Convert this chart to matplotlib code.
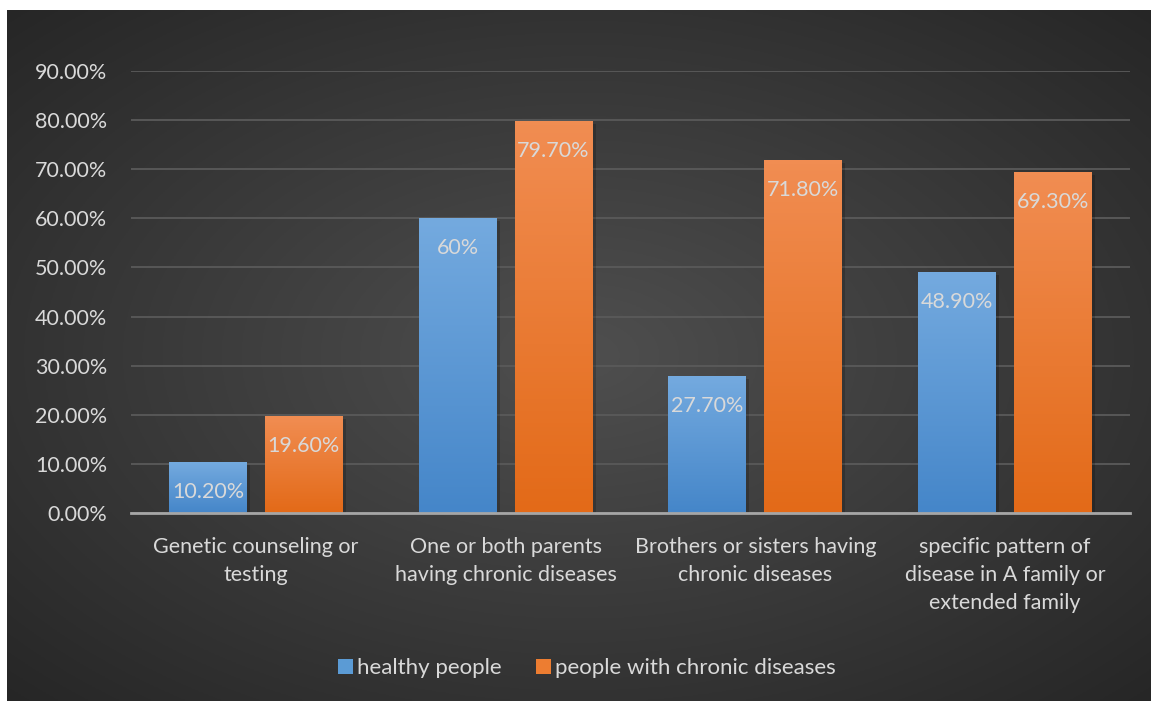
import numpy as np
import matplotlib
matplotlib.use("Agg")
import matplotlib.pyplot as plt
from matplotlib.patches import Patch

categories = ["Genetic counseling or\ntesting",
              "One or both parents\nhaving chronic diseases",
              "Brothers or sisters having\nchronic diseases",
              "specific pattern of\ndisease in A family or\nextended family"]
healthy = [10.2, 60.0, 27.7, 48.9]
chronic = [19.6, 79.7, 71.8, 69.3]
healthy_labels = ["10.20%", "60%", "27.70%", "48.90%"]
chronic_labels = ["19.60%", "79.70%", "71.80%", "69.30%"]
series_names = ["healthy people", "people with chronic diseases"]

plt.rcParams['font.family'] = ['Lato', 'DejaVu Sans']
txt = "#d9d9d9"

W, H = 1151, 701
fig = plt.figure(figsize=(W / 100, H / 100), dpi=100)
fig.patch.set_facecolor("white")

# dark panel with radial gradient
bg = fig.add_axes([7 / W, 0, 1 - 7 / W, 1 - 10 / H])
bg.set_axis_off()
yy, xx = np.mgrid[0:1:300j, 0:1:500j]
r = np.sqrt(((xx - 0.5) / 0.5) ** 2 + ((yy - 0.5) / 0.5) ** 2) / np.sqrt(2)
shade = 0.31 - 0.16 * r
bg.imshow(np.dstack([shade, shade, shade]), aspect="auto", extent=[0, 1, 0, 1])
bg.set_xlim(0, 1)
bg.set_ylim(0, 1)

ax = fig.add_axes([131 / W, 1 - 513 / H, (1130 - 131) / W, (513 - 71) / H])
ax.patch.set_alpha(0)

x = np.arange(len(categories))
w = 0.312
off = 0.192
b1 = ax.bar(x - off, healthy, w, color="#5b9bd5", zorder=3, label=series_names[0])
b2 = ax.bar(x + off, chronic, w, color="#ed7d31", zorder=3, label=series_names[1])

# vertical gradient fill on each bar
grads = [("#74aadf", "#4586c9"), ("#f18d52", "#e36a18")]
for bars, (top, bot) in zip([b1, b2], grads):
    c1 = np.array(matplotlib.colors.to_rgb(top))
    c2 = np.array(matplotlib.colors.to_rgb(bot))
    g = np.linspace(0, 1, 100)[:, None]
    img = (c1 * (1 - g) + c2 * g)[:, None, :]
    for p in bars:
        x0, h = p.get_x(), p.get_height()
        # soft shadow
        ax.bar(x0 + p.get_width() / 2 + 0.012, h, p.get_width(), bottom=-0.5,
               color="black", alpha=0.18, zorder=2, align="center")
        ax.imshow(img, aspect="auto", extent=[x0, x0 + p.get_width(), 0, h], zorder=3.5)
        p.set_visible(False)

for bars, labels in zip([b1, b2], [healthy_labels, chronic_labels]):
    for p, lab in zip(bars, labels):
        ax.annotate(lab, (p.get_x() + p.get_width() / 2, p.get_height()),
                    xytext=(0, -21), textcoords="offset points", ha="center", va="center",
                    color=txt, fontsize=15.5, zorder=5)

ax.set_xlim(-0.5, 3.5)
ax.set_ylim(0, 90)
ax.set_yticks(np.arange(0, 91, 10))
ax.set_yticklabels([f"{v:.2f}%" for v in np.arange(0, 91, 10)])
ax.set_xticks(x)
ax.set_xticklabels(categories, linespacing=1.5)
ax.tick_params(axis="both", length=0, colors=txt, labelsize=15.5)
ax.tick_params(axis="y", pad=17)
ax.tick_params(axis="x", pad=17)
ax.grid(axis="y", color="#5a5a5a", linewidth=1.3, zorder=0)
for s in ["top", "right", "left"]:
    ax.spines[s].set_visible(False)
ax.spines["bottom"].set_color("#a6a6a6")
ax.spines["bottom"].set_linewidth(2)
ax.spines["bottom"].set_zorder(6)

handles = [Patch(facecolor="#5b9bd5"), Patch(facecolor="#ed7d31")]
leg = fig.legend(handles, series_names, loc="center", bbox_to_anchor=(587 / W, 1 - 668 / H),
                 ncol=2, frameon=False, fontsize=16, handlelength=0.65, handleheight=0.65,
                 handletextpad=0.2, columnspacing=1.55)
for t in leg.get_texts():
    t.set_color(txt)

fig.savefig("out.png", dpi=100)
